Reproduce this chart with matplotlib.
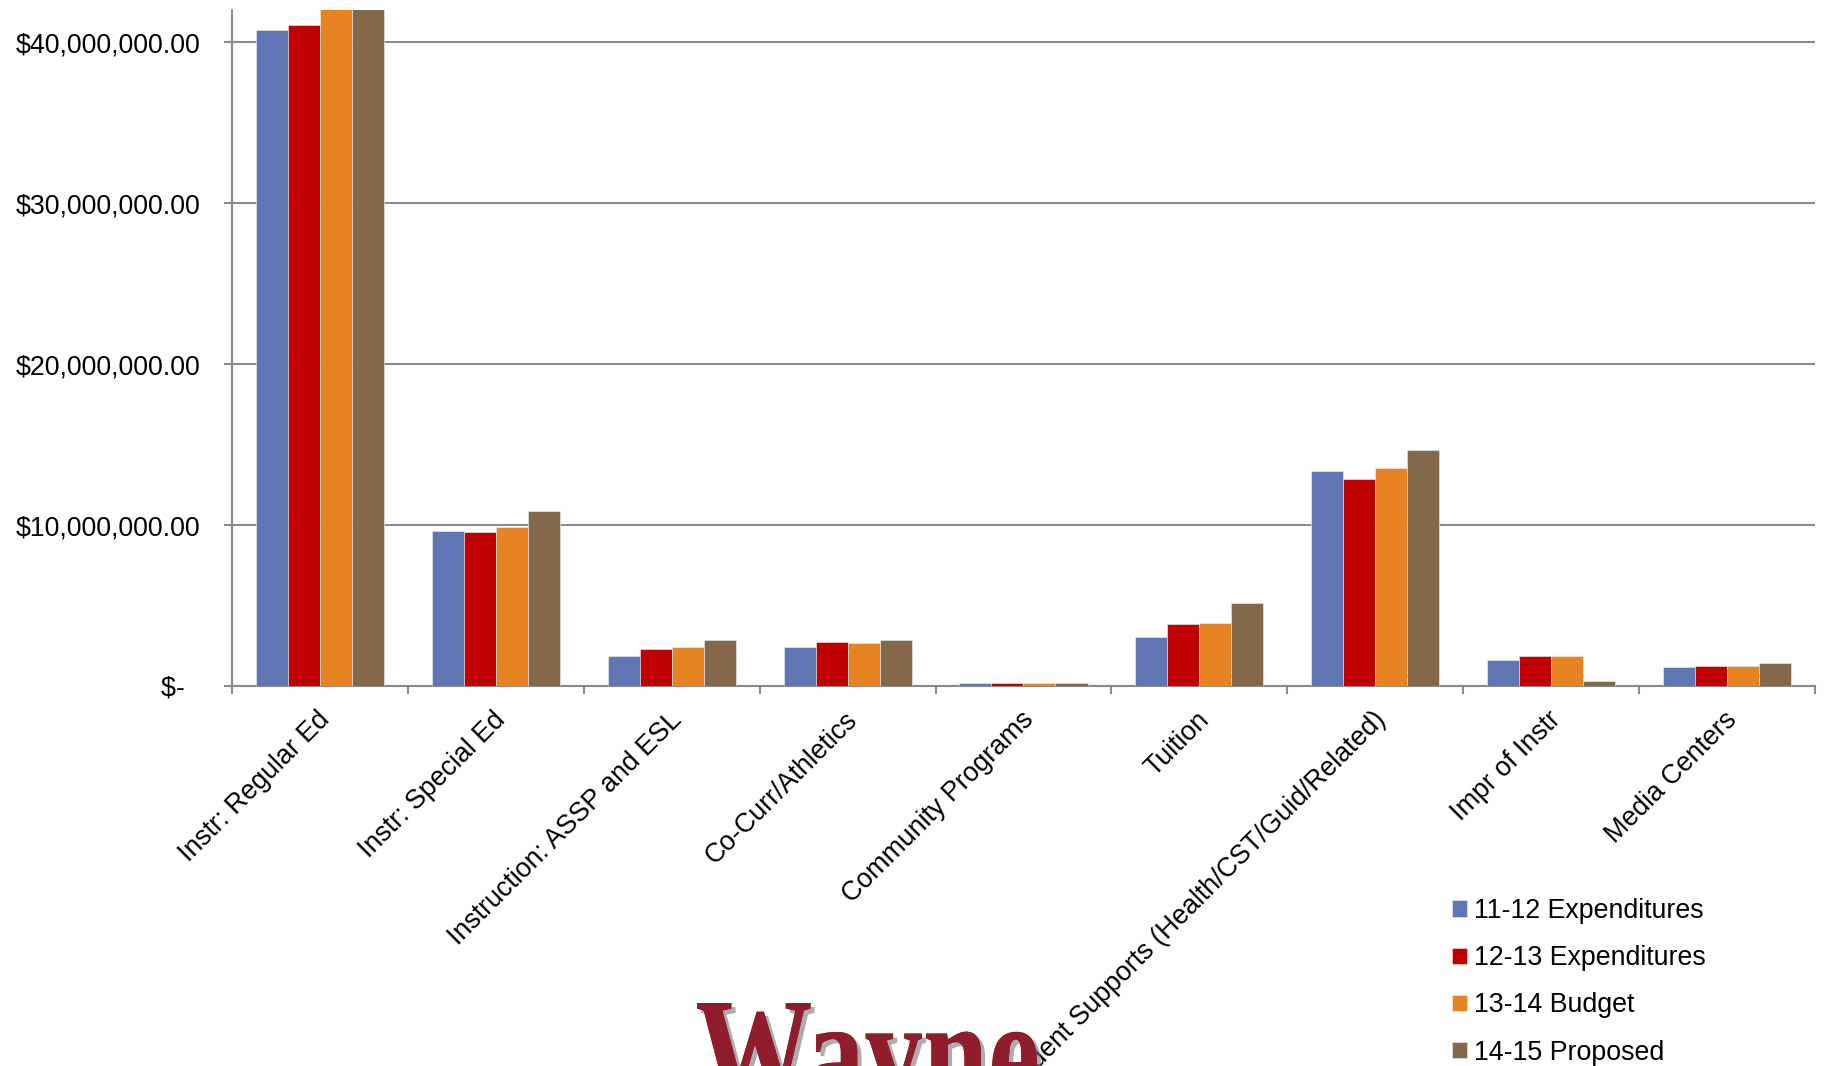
import matplotlib.pyplot as plt
import matplotlib.patheffects as pe
import matplotlib.transforms as mtransforms
from matplotlib.patches import PathPatch
from matplotlib.textpath import TextPath
from matplotlib.font_manager import FontProperties
from matplotlib.ticker import FuncFormatter, FixedLocator
import numpy as np

plt.rcParams['font.family'] = ['Liberation Sans', 'DejaVu Sans']

categories = [
    "Instr: Regular Ed",
    "Instr: Special Ed",
    "Instruction: ASSP and ESL",
    "Co-Curr/Athletics",
    "Community Programs",
    "Tuition",
    "Student Supports (Health/CST/Guid/Related)",
    "Impr of Instr",
    "Media Centers",
]
# values in millions of dollars
exp_11_12 = [40.79, 9.63, 1.85, 2.41, 0.20, 3.02, 13.38, 1.63, 1.21]
exp_12_13 = [41.10, 9.56, 2.28, 2.76, 0.18, 3.83, 12.88, 1.85, 1.27]
budget_13_14 = [42.60, 9.90, 2.43, 2.68, 0.17, 3.94, 13.56, 1.89, 1.27]
proposed_14_15 = [43.00, 10.85, 2.86, 2.84, 0.20, 5.18, 14.65, 0.28, 1.42]

series_names = ["11-12 Expenditures", "12-13 Expenditures", "13-14 Budget", "14-15 Proposed"]
colors = ["#6076B4", "#C00000", "#E68422", "#84684A"]

fig = plt.figure(figsize=(18.26, 10.66), dpi=100)
ax = fig.add_axes([0.127, 0.3565, 0.867, 0.634])

x = np.arange(len(categories))
w = 0.182
all_series = [exp_11_12, exp_12_13, budget_13_14, proposed_14_15]
for j, (vals, name, c) in enumerate(zip(all_series, series_names, colors)):
    ax.bar(x + (j - 1.5) * w, np.array(vals) * 1e6, width=w, color=c, label=name,
           edgecolor="#f0f0f0", linewidth=0.4, zorder=3)

ax.set_xlim(-0.5, len(categories) - 0.5)
ax.set_ylim(0, 42e6)

ax.set_yticks([0, 10e6, 20e6, 30e6, 40e6])
ax.yaxis.set_major_formatter(FuncFormatter(lambda v, p: "$-  " if v == 0 else f"${v:,.2f}"))
ax.yaxis.grid(True, color="#8a8a8a", linewidth=1.5, zorder=0)
ax.set_axisbelow(True)

ax.xaxis.set_major_locator(FixedLocator(np.arange(-0.5, len(categories), 1.0)))
ax.xaxis.set_minor_locator(FixedLocator(x))
ax.set_xticklabels([], minor=False)
ax.set_xticklabels(categories, minor=True, rotation=45, ha="right", va="top",
                   rotation_mode="anchor", fontsize=19.3)
ax.tick_params(axis="x", which="major", length=6, width=1.5, color="#8a8a8a", direction="out")
ax.tick_params(axis="x", which="minor", length=0, pad=15)
ax.tick_params(axis="y", length=6, width=1.5, color="#8a8a8a", labelsize=19.3, pad=17)

offset = mtransforms.ScaledTranslation(-3 / 100, 0, fig.dpi_scale_trans)
for lab in ax.get_xticklabels(minor=True):
    lab.set_transform(lab.get_transform() + offset)

for s in ["top", "right"]:
    ax.spines[s].set_visible(False)
for s in ["left", "bottom"]:
    ax.spines[s].set_color("#8a8a8a")
    ax.spines[s].set_linewidth(1.5)

ax.legend(loc="upper left", bbox_to_anchor=(1452 / 1826, 1 - 898 / 1066),
          bbox_transform=fig.transFigure, frameon=False, fontsize=19.3,
          handlelength=0.55, handleheight=0.55, handletextpad=0.27,
          labelspacing=0.79, borderpad=0, borderaxespad=0)

# school logo at the bottom, partly cut off (tall, condensed serif)
tp = TextPath((0, 0), "Wayne", size=156,
              prop=FontProperties(family="Liberation Serif", weight="bold"))
ext = tp.get_extents()
sx = 340 / ext.width
logo_tr = (mtransforms.Affine2D().translate(-ext.x0, -ext.y1).scale(sx, 1.0)
           .translate(697, 1066 - 1003))
logo = PathPatch(tp, transform=logo_tr, facecolor="#8F1D2C", edgecolor="none",
                 path_effects=[pe.withSimplePatchShadow(offset=(3, -3), shadow_rgbFace="#777777",
                                                        alpha=0.6), pe.Normal()])
fig.add_artist(logo)

fig.savefig("out.png", dpi=100)
